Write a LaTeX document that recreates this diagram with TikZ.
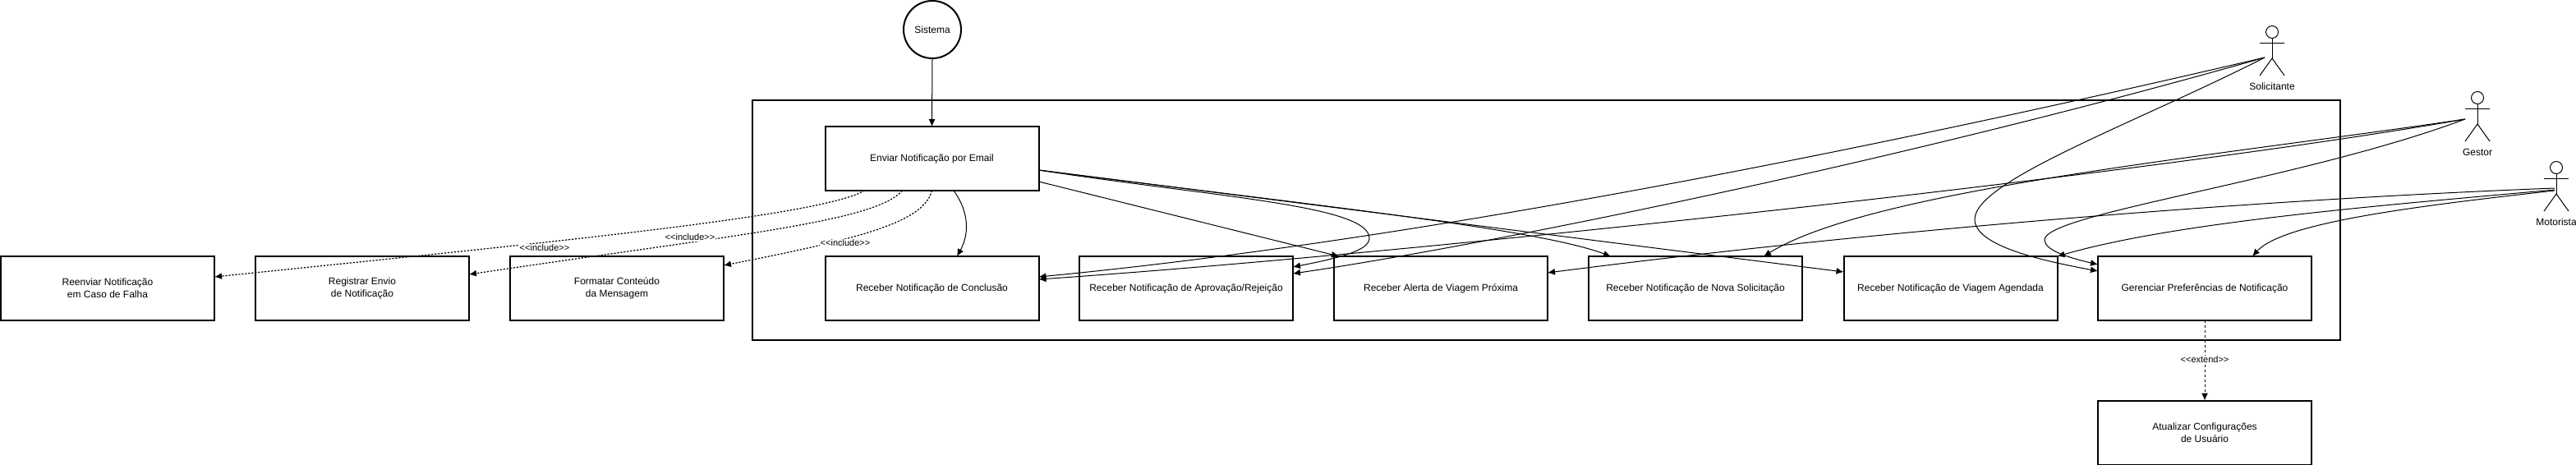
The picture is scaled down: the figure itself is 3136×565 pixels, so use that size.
\documentclass[tikz,border=0pt]{standalone}
\usepackage{fontspec}
\setmainfont{Liberation Sans}
\usetikzlibrary{arrows.meta,positioning}
\tikzset{
    caso/.style={draw, line width=2pt, outer sep=0pt, inner sep=0pt, minimum width=260pt, minimum height=78pt, align=center, font=\fontsize{12}{15}\selectfont},
    liga/.style={line width=1pt, -{Latex[length=9pt,width=8pt]}},
    incl/.style={liga, line width=1.2pt, dash pattern=on 2.2pt off 1.8pt},
    ext/.style={liga, dash pattern=on 3pt off 3pt},
    rotulo/.style={fill=white, inner sep=1pt, font=\fontsize{11}{13}\selectfont},
    ator/.style={minimum width=30pt, minimum height=60pt, inner sep=0pt, outer sep=0pt},
}
\begin{document}
\begin{tikzpicture}[x=1pt, y=-1pt]
    \useasboundingbox (0,0) rectangle (3136,565);
    \node[draw, line width=2pt, outer sep=0pt, minimum width=1933pt, minimum height=292pt] (fronteira) at (1882.5,268) {};
    \node[draw, circle, line width=2pt, outer sep=0pt, inner sep=0pt, minimum size=70pt, font=\fontsize{12}{15}\selectfont] (sistema) at (1135,36) {Sistema};
    \node[caso] (reenviar) at (131,351) {Reenviar Notificação\\em Caso de Falha};
    \node[caso] (registrar) at (441,351) {Registrar Envio\\de Notificação};
    \node[caso] (formatar) at (751,351) {Formatar Conteúdo\\da Mensagem};
    \node[caso] (enviar) at (1134.5,193) {Enviar Notificação por Email};
    \node[caso] (conclusao) at (1134.5,351) {Receber Notificação de Conclusão};
    \node[caso] (aprovacao) at (1444,351) {Receber Notificação de Aprovação/Rejeição};
    \node[caso] (alerta) at (1754,351) {Receber Alerta de Viagem Próxima};
    \node[caso] (nova) at (2064,351) {Receber Notificação de Nova Solicitação};
    \node[caso] (agendada) at (2374.5,351) {Receber Notificação de Viagem Agendada};
    \node[caso] (preferencias) at (2684,351) {Gerenciar Preferências de Notificação};
    \node[caso] (atualizar) at (2684,526.5) {Atualizar Configurações\\de Usuário};
    \foreach \nome/\rotulo/\cx/\cy in {solicitante/Solicitante/2766/62, gestor/Gestor/3016/142, motorista/Motorista/3112/227} {
        \node[ator] (\nome) at (\cx,\cy) {};
        \node[font=\fontsize{12}{15}\selectfont, inner sep=0pt] (\nome-nome) at (\cx,\cy+43) {\rotulo};
        \draw[line width=1pt] (\cx,\cy-23) circle[radius=7.5];
        \draw[line width=1pt] (\cx-15,\cy-10) -- (\cx+15,\cy-10);
        \draw[line width=1pt] (\cx,\cy-15.5) -- (\cx,\cy+9);
        \draw[line width=1pt] (\cx-15,\cy+30) -- (\cx,\cy+9) -- (\cx+15,\cy+30);
    }
    \draw[liga] (sistema.south) -- (enviar.north);
    \draw[liga] ([shift={(26.5,0)}]enviar.south) .. controls (1180,258) and (1180,285) .. ([shift={(30.5,0)}]conclusao.north);
    \draw[liga] ([shift={(0,14)}]enviar.east) .. controls (1480,240) and (1667,250) .. (1667,290) .. controls (1667,305) and (1630,314) .. ([shift={(0,-26)}]aprovacao.east);
    \draw[liga] ([shift={(0,28)}]enviar.east) -- ([shift={(-124,0)}]alerta.north);
    \draw[liga] ([shift={(0,14)}]enviar.east) .. controls (1600,250) and (1870,278) .. ([shift={(-103,0)}]nova.north);
    \draw[liga] ([shift={(0,14)}]enviar.east) -- ([shift={(0,-20)}]agendada.west);
    \draw[liga] ([shift={(-9,8)}]solicitante.center) .. controls (2150,212) and (1650,300) .. ([shift={(0,-14)}]conclusao.east);
    \draw[liga] ([shift={(-9,8)}]solicitante.center) .. controls (2300,200) and (1800,300) .. ([shift={(0,-18)}]aprovacao.east);
    \draw[liga] ([shift={(-9,8)}]solicitante.center) .. controls (2600,150) and (2404,220) .. (2404,267) .. controls (2404,300) and (2490,318) .. ([shift={(0,-21)}]preferencias.west);
    \draw[liga] ([shift={(-15,3)}]gestor.center) .. controls (2600,215) and (1700,310) .. ([shift={(0,-11)}]conclusao.east);
    \draw[liga] ([shift={(-15,3)}]gestor.center) .. controls (2700,190) and (2280,230) .. ([shift={(83,0)}]nova.north);
    \draw[liga] ([shift={(-15,3)}]gestor.center) .. controls (2800,220) and (2489,260) .. (2489,292) .. controls (2489,305) and (2520,314) .. ([shift={(0,-29)}]preferencias.west);
    \draw[liga] ([shift={(-2,2)}]motorista.center) .. controls (2700,245) and (2250,285) .. ([shift={(0,-19)}]alerta.east);
    \draw[liga] ([shift={(-2,4)}]motorista.center) .. controls (2900,250) and (2650,270) .. (agendada.north east);
    \draw[liga] ([shift={(-2,5)}]motorista.center) .. controls (2950,250) and (2780,270) .. ([shift={(58,0)}]preferencias.north);
    \draw[incl] ([shift={(-82,0)}]enviar.south) .. controls (1000,262) and (700,292) .. ([shift={(0,-14)}]reenviar.east);
    \draw[incl] ([shift={(-36,0)}]enviar.south) .. controls (1065,270) and (900,285) .. ([shift={(0,-17)}]registrar.east);
    \draw[incl] (enviar.south) .. controls (1125,270) and (1050,290) .. ([shift={(0,-28)}]formatar.east);
    \draw[ext] (preferencias.south) -- (atualizar.north);
    \node[rotulo] (incReenviar) at (663,302) {<{}<include>{}>};
    \node[rotulo] (incRegistrar) at (840,289) {<{}<include>{}>};
    \node[rotulo] (incFormatar) at (1029,296) {<{}<include>{}>};
    \node[rotulo] (extAtualizar) at (2684,438) {<{}<extend>{}>};
\end{tikzpicture}
\end{document}
